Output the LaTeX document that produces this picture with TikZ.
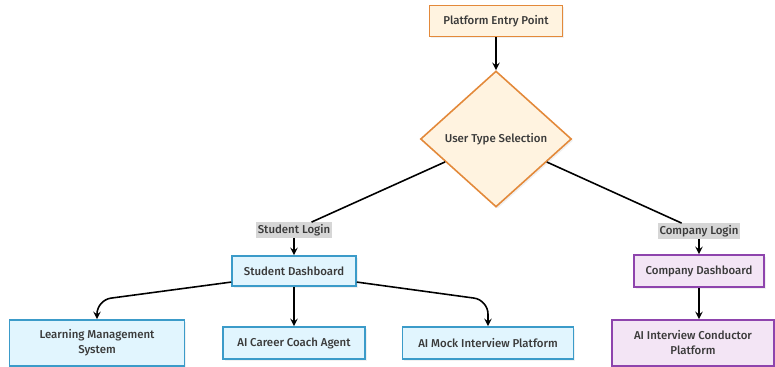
\documentclass[tikz,border=0pt]{standalone}
\usepackage{fontspec}
\setmainfont{Fira Sans}[UprightFont=* Medium]
\usepackage{tikz}
\usepackage{xcolor}
\usetikzlibrary{shapes.geometric,shadows}

\definecolor{entryline}{HTML}{E3893A}
\definecolor{entryfill}{HTML}{FFF3E0}
\definecolor{studline}{HTML}{3B9BC9}
\definecolor{studfill}{HTML}{E1F5FE}
\definecolor{compline}{HTML}{8E44AD}
\definecolor{compfill}{HTML}{F3E5F5}
\definecolor{labelgrey}{HTML}{D6D6D6}
\definecolor{textgrey}{HTML}{3A3A3A}

\begin{document}
\begin{tikzpicture}[
            box/.style={rectangle, draw, line width=0.9pt, align=center, text=textgrey,
                font=\fontsize{6.5}{8.5}\selectfont, inner sep=2pt,
                drop shadow={opacity=0.12, shadow xshift=1pt, shadow yshift=-1pt}},
            entrybox/.style={box, draw=entryline, fill=entryfill},
            studbox/.style={box, draw=studline, fill=studfill},
            compbox/.style={box, draw=compline, fill=compfill},
            choice/.style={diamond, draw=entryline, fill=entryfill, line width=0.9pt, text=textgrey,
                font=\fontsize{6.5}{8.5}\selectfont, inner sep=0pt, aspect=1.1,
                minimum width=3.02cm, minimum height=2.72cm,
                drop shadow={opacity=0.12, shadow xshift=1pt, shadow yshift=-1pt}},
            tag/.style={rectangle, fill=labelgrey, text=textgrey, inner sep=1pt,
                font=\fontsize{6.5}{8}\selectfont},
            line/.style={line width=0.9pt, black},
            arrow/.style={line, -stealth}
        ]
            \useasboundingbox (0,0) rectangle (15.5,-7.34);

            \node[entrybox, minimum width=2.66cm, minimum height=0.62cm] (entry) at (9.92,-0.42) {Platform Entry Point};
            \node[choice] (select) at (9.92,-2.78) {User Type Selection};

            \node[tag] (studlogin) at (5.88,-4.6) {Student Login};
            \node[tag] (complogin) at (13.98,-4.62) {Company Login};

            \node[studbox, minimum width=2.48cm, minimum height=0.6cm] (studdash) at (5.88,-5.42) {Student Dashboard};
            \node[compbox, minimum width=2.6cm, minimum height=0.64cm] (compdash) at (13.98,-5.42) {Company Dashboard};

            \node[studbox, minimum width=3.5cm, minimum height=0.92cm] (lms) at (1.94,-6.86) {Learning Management\\System};
            \node[studbox, minimum width=2.84cm, minimum height=0.64cm] (coach) at (5.88,-6.86) {AI Career Coach Agent};
            \node[studbox, minimum width=3.42cm, minimum height=0.64cm] (mock) at (9.76,-6.86) {AI Mock Interview Platform};
            \node[compbox, minimum width=3.24cm, minimum height=0.92cm] (conductor) at (13.86,-6.86) {AI Interview Conductor\\Platform};

            \draw[arrow] (entry) -- (select);
            \draw[line] (select) -- (studlogin);
            \draw[line] (select) -- (complogin);
            \draw[arrow] (studlogin) -- (studdash);
            \draw[arrow] (complogin) -- (compdash);

            \draw[arrow, rounded corners=8pt] (studdash.190) -- (lms.north |- 0,-6.0) -- (lms.north);
            \draw[arrow] (studdash) -- (coach);
            \draw[arrow, rounded corners=8pt] (studdash.-10) -- (mock.north |- 0,-6.0) -- (mock.north);
            \draw[arrow] (compdash) -- (compdash |- conductor.north);
        \end{tikzpicture}
\end{document}
